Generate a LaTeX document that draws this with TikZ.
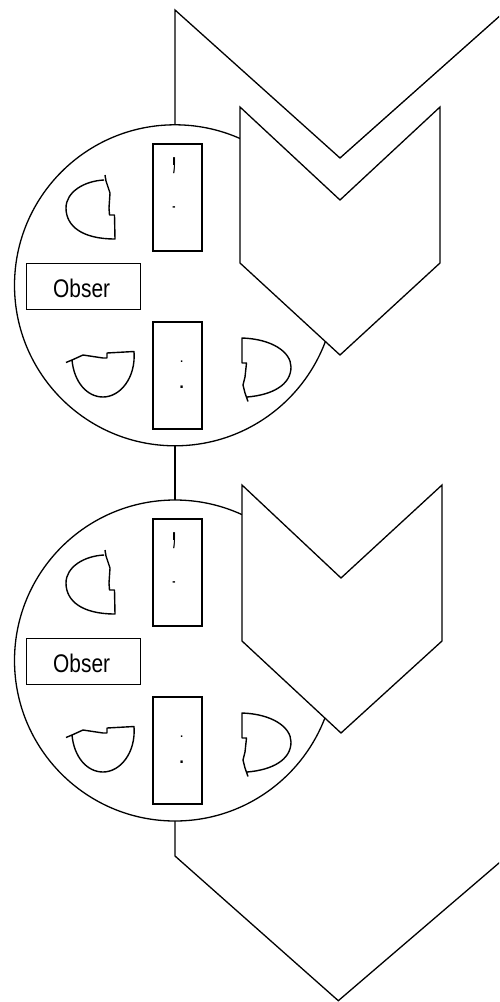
\documentclass[tikz,border=0pt]{standalone}
\usepackage{fontspec}
\setmainfont{Liberation Sans}
\usetikzlibrary{calc}
\tikzset{
  ring/.style={draw, circle, minimum size=321pt, inner sep=0pt, outer sep=0pt, line width=1.3pt},
  boxnode/.style={draw, rectangle, inner sep=0pt, outer sep=0pt, line width=1.2pt},
  chev/.style={draw, fill=white, line width=1.3pt, line join=miter},
  icon/.style={draw, line width=1.4pt, line join=round},
  wire/.style={draw, line width=1.3pt},
  glyph/.style={inner sep=0pt, outer sep=0pt, anchor=base}
}
\newcommand{\unitcontents}[1]{%
  \node[boxnode, minimum width=49pt, minimum height=107pt] (#1up) at (177.5,197.5) {};
  \node[boxnode, minimum width=49pt, minimum height=107pt] (#1lo) at (177.5,375.5) {};
  \node[boxnode, minimum width=114pt, minimum height=46pt] (#1obs) at (83.7,286.3) {};
  \node[glyph, font=\fontsize{24}{24}\selectfont\bfseries] (#1g1) at (174,165.7) {\scalebox{0.6}[2.2]{,}};
  \node[glyph, font=\fontsize{12}{12}\selectfont\bfseries] (#1g2) at (174,210.5) {\scalebox{0.8}[1]{-}};
  \node[glyph, font=\fontsize{15}{15}\selectfont] (#1g3) at (181.7,362.5) {.};
  \node[glyph, font=\fontsize{24}{24}\selectfont] (#1g4) at (181.7,388.5) {.};
  \node[glyph, font=\fontsize{25.5}{25.5}\selectfont] (#1obst) at (81.7,297.7) {\scalebox{0.82}[1]{Obser}};
  % upper-left icon
  \draw[icon] (105,175) -- (106,181) -- (110,193) -- (109,208) -- (109.5,215) -- (114.5,215) -- (115,239)
     .. controls (82,239) and (66,226) .. (66,208)
     .. controls (66,192) and (84,181) .. (104,180);
  % lower-left icon
  \draw[icon] (66,362.5) -- (72,360) -- (83,355) -- (103,358) -- (107,358) -- (107,353) -- (134,351.5)
     .. controls (136,378) and (120,397) .. (103,397)
     .. controls (87,397) and (74,382) .. (72,360);
  % lower-right icon
  \draw[icon] (248,401.5) -- (245,393) -- (243,385) -- (245,377) -- (246.5,363) -- (242,363) -- (242,338)
     .. controls (272,339) and (291,352) .. (291,367)
     .. controls (291,385) and (272,395) .. (247,397);
}
\begin{document}
\begin{tikzpicture}[x=1pt, y=-1pt]
  \useasboundingbox (0,0) rectangle (499,1002);
  \clip (0,0) rectangle (499,1002);
  % circles
  \node[ring] (c1) at (175,285.3) {};
  \node[ring] (c2) at (175,660.5) {};
  \unitcontents{a}
  \begin{scope}[shift={(0,375)}]
    \unitcontents{b}
  \end{scope}
  % connectors
  \coordinate (tl) at (175,10);
  \coordinate (tv) at (340,158);
  \coordinate (tr) at (520,-2);
  \draw[wire] (c1.north) -- (tl) -- (tv) -- (tr);
  \draw[wire] (c1.south) -- (c2.north);
  \coordinate (bl) at (175,856);
  \coordinate (bv) at (338.3,1000.7);
  \coordinate (br) at (520,845);
  \draw[wire] (c2.south) -- (bl) -- (bv) -- (br);
  % chevrons
  \draw[chev] (240,107) -- (340,200) -- (440,107) -- (440,263) -- (340,355) -- (240,263) -- cycle;
  \draw[chev] (242,485) -- (341,578) -- (442,485) -- (442,641) -- (341,733) -- (242,641) -- cycle;
\end{tikzpicture}
\end{document}
